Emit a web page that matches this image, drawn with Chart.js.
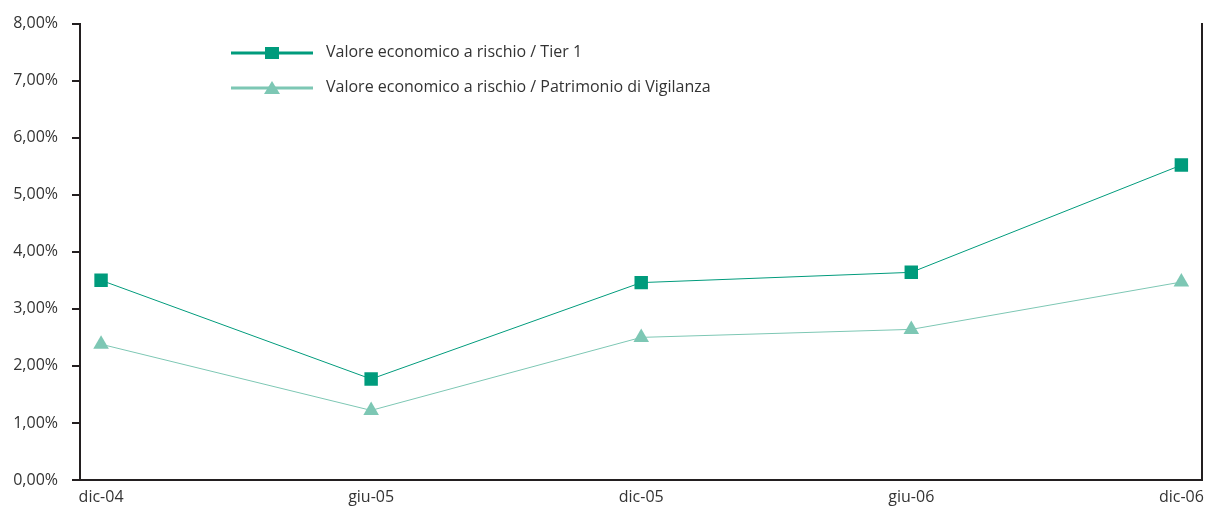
<!DOCTYPE html>
<html>
<head>
<meta charset="utf-8">
<script src="https://cdn.jsdelivr.net/npm/chart.js@4/dist/chart.umd.min.js"></script>
<style>
  html, body { margin: 0; padding: 0; background: #ffffff; }
  #box { position: relative; width: 1212px; height: 507px; }
</style>
</head>
<body>
<div id="box"><canvas id="grafico"></canvas></div>
<script>
// Periodi e valori (in %) delle due serie
var periodi = ["dic-04", "giu-05", "dic-05", "giu-06", "dic-06"];
var tier1 = [3.50, 1.77, 3.46, 3.64, 5.52];
var patrimonio = [2.38, 1.22, 2.50, 2.64, 3.47];
var etichette = ["Valore economico a rischio / Tier 1", "Valore economico a rischio / Patrimonio di Vigilanza"];

var verdeScuro = "#009b7c";
var verdeChiaro = "#7dc7b4";
var nero = "#231f20";
var testo = "#333333";
var font = "'Open Sans', Lato, sans-serif";

function punti(valori) {
    return valori.map(function (v, i) { return { x: i, y: v }; });
}

// Legenda disegnata dentro l'area del grafico, in alto a sinistra
var legenda = {
    id: "legenda",
    afterDraw: function (chart) {
        var ctx = chart.ctx;
        var x0 = 231, x1 = 313, xt = 326;
        var righe = [53, 88];
        chart.data.datasets.forEach(function (ds, i) {
            var y = righe[i];
            var xm = (x0 + x1) / 2;
            ctx.save();
            ctx.strokeStyle = ds.borderColor;
            ctx.lineWidth = 3;
            ctx.beginPath();
            ctx.moveTo(x0, y);
            ctx.lineTo(x1, y);
            ctx.stroke();
            ctx.fillStyle = ds.pointBackgroundColor;
            ctx.beginPath();
            if (ds.pointStyle === "rect") {
                ctx.rect(xm - 7, y - 6, 14, 12);
            } else {
                ctx.moveTo(xm, y - 7);
                ctx.lineTo(xm + 8, y + 6);
                ctx.lineTo(xm - 8, y + 6);
                ctx.closePath();
            }
            ctx.fill();
            ctx.fillStyle = testo;
            ctx.font = "16px " + font;
            ctx.textBaseline = "middle";
            ctx.fillText(ds.label, xt, y - 1);
            ctx.restore();
        });
    }
};

new Chart(document.getElementById("grafico"), {
    type: "line",
    data: {
        datasets: [
            {
                label: etichette[0],
                data: punti(tier1),
                borderColor: verdeScuro,
                borderWidth: 1,
                pointStyle: "rect",
                pointRadius: 9.5,
                pointBackgroundColor: verdeScuro,
                pointBorderWidth: 0,
                tension: 0
            },
            {
                label: etichette[1],
                data: punti(patrimonio),
                borderColor: verdeChiaro,
                borderWidth: 1,
                pointStyle: "triangle",
                pointRadius: 9,
                pointBackgroundColor: verdeChiaro,
                pointBorderWidth: 0,
                tension: 0
            }
        ]
    },
    options: {
        responsive: true,
        maintainAspectRatio: false,
        animation: false,
        layout: { padding: { left: 0, right: 0, top: 17, bottom: 0 } },
        plugins: {
            legend: { display: false },
            tooltip: { enabled: false }
        },
        scales: {
            x: {
                type: "linear",
                min: -0.078,
                max: 4.075,
                afterBuildTicks: function (scale) {
                    scale.ticks = periodi.map(function (p, i) { return { value: i }; });
                },
                afterFit: function (scale) { scale.height = 27; },
                ticks: {
                    autoSkip: false,
                    maxRotation: 0,
                    padding: 8,
                    color: testo,
                    font: { family: font, size: 16 },
                    callback: function (v) { return periodi[v]; }
                },
                grid: { drawOnChartArea: false, drawTicks: false },
                border: { display: true, color: nero, width: 2 }
            },
            y: {
                min: 0,
                max: 8,
                afterFit: function (scale) { scale.width = 80; },
                ticks: {
                    stepSize: 1,
                    padding: 14,
                    color: testo,
                    font: { family: font, size: 16 },
                    callback: function (v) { return v.toFixed(2).replace(".", ",") + "%"; }
                },
                grid: { drawOnChartArea: false, drawTicks: true, tickLength: 8, color: nero, lineWidth: 2 },
                border: { display: true, color: nero, width: 2 }
            },
            destra: {
                position: "right",
                min: 0,
                max: 8,
                afterFit: function (scale) { scale.width = 7; },
                ticks: { display: false },
                grid: { drawOnChartArea: false, drawTicks: false },
                border: { display: true, color: nero, width: 2 }
            }
        }
    },
    plugins: [legenda]
});
</script>
</body>
</html>
